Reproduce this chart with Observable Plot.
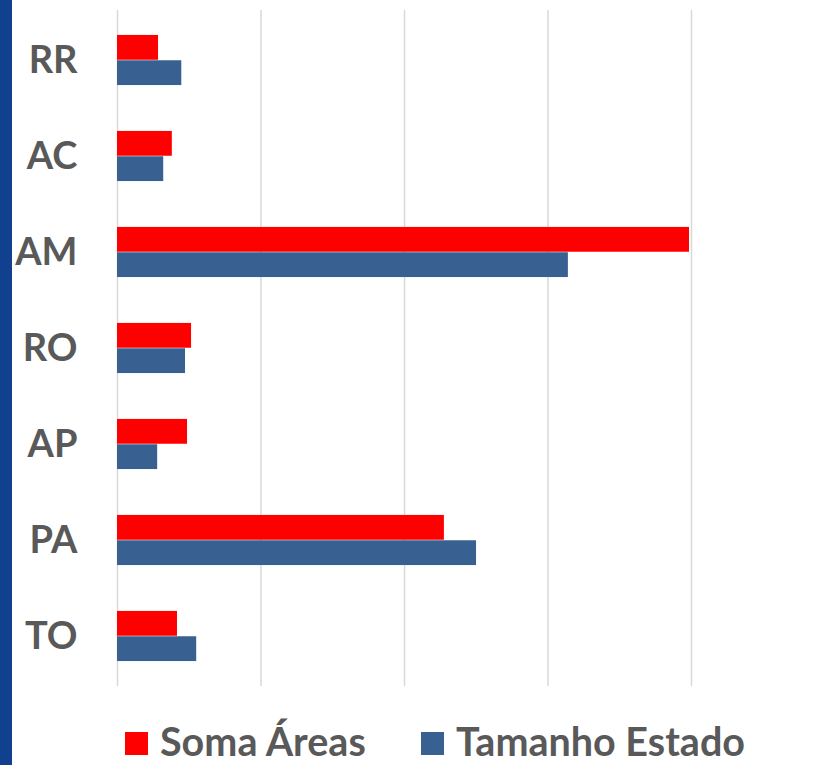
<!DOCTYPE html>
<html>
<head>
<meta charset="utf-8">
<script src="https://cdn.jsdelivr.net/npm/d3@7"></script>
<script src="https://cdn.jsdelivr.net/npm/@observablehq/plot@0.6"></script>
<style>
  body { margin: 0; background: #fff; }
  #wrap { position: relative; width: 830px; height: 765px; overflow: hidden; font-family: Lato, "Open Sans", sans-serif; }
  #stripe { position: absolute; left: 0; top: 0; width: 12px; height: 765px; background: #11408F; }
  #chart { position: absolute; left: 0; top: 0; }
  .leg { position: absolute; top: 717px; display: flex; align-items: flex-start; font-weight: bold; font-size: 39.5px; line-height: 47px; color: #595959; white-space: nowrap; }
  .sw { width: 23px; height: 23px; margin-right: 12px; margin-top: 15px; }
</style>
</head>
<body>
<div id="wrap">
  <div id="stripe"></div>
  <div id="chart"></div>
  <div class="leg" style="left:125px"><span class="sw" style="background:#FF0000"></span>Soma Áreas</div>
  <div class="leg" style="left:421px"><span class="sw" style="background:#386192"></span>Tamanho Estado</div>
</div>
<script>
const states = ["RR", "AC", "AM", "RO", "AP", "PA", "TO"];
const somaAreas = [143000, 191000, 1993000, 258000, 244000, 1139000, 209000];
const tamanhoEstado = [224000, 161000, 1571000, 237000, 140000, 1251000, 276000];
const gridTicks = [0, 500000, 1000000, 1500000, 2000000];
const seriesNames = ["Soma Áreas", "Tamanho Estado"];
const colors = ["#FF0000", "#386192"];

const soma = states.map((s, i) => ({state: s, value: somaAreas[i]}));
const tam = states.map((s, i) => ({state: s, value: tamanhoEstado[i]}));

const inset = 35.6;
const shift = 12.65;

const chart = Plot.plot({
  width: 830,
  height: 700,
  marginLeft: 117,
  marginRight: 139,
  marginTop: 10,
  marginBottom: 14,
  style: {background: "transparent", overflow: "visible"},
  x: {domain: [0, 2000000], axis: null},
  y: {domain: states, padding: 0, label: null},
  marks: [
    Plot.ruleX(gridTicks, {stroke: "#d9d9d9", strokeWidth: 1.5}),
    Plot.barX(soma, {y: "state", x: "value", fill: colors[0], insetTop: inset, insetBottom: inset, dy: -shift}),
    Plot.barX(tam, {y: "state", x: "value", fill: colors[1], insetTop: inset, insetBottom: inset, dy: shift}),
    Plot.axisY({tickSize: 0, tickPadding: 40, fontSize: 38, fontWeight: "bold", fill: "#595959", fontFamily: "Lato, sans-serif", label: null})
  ]
});
document.getElementById("chart").appendChild(chart);
</script>
</body>
</html>
